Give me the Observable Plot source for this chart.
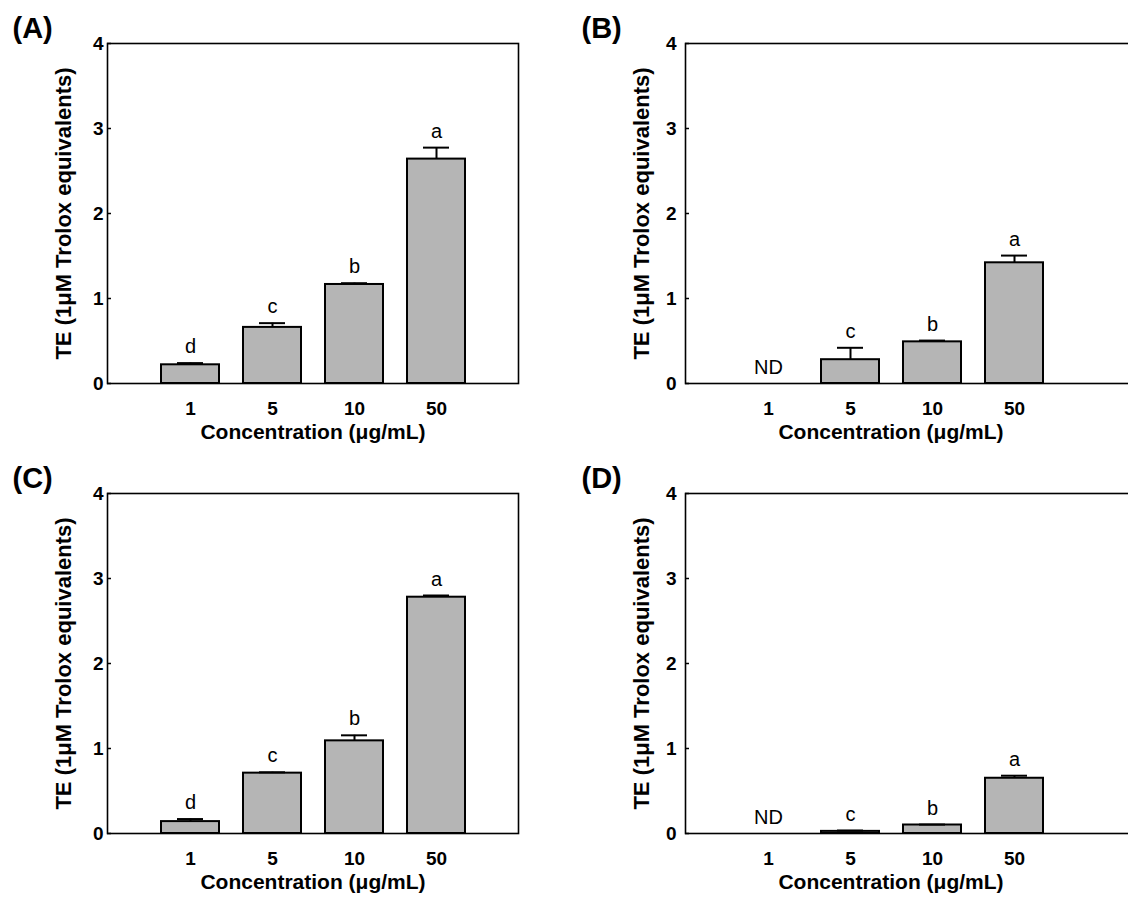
<!DOCTYPE html>
<html>
<head>
<meta charset="utf-8">
<script src="https://cdn.jsdelivr.net/npm/d3@7"></script>
<script src="https://cdn.jsdelivr.net/npm/@observablehq/plot@0.6"></script>
<style>
  html, body { margin: 0; padding: 0; background: #fff; }
  #wrap { position: relative; width: 1128px; height: 901px; overflow: hidden; background: #fff; }
  .panel { position: absolute; }
  .panel svg { overflow: visible; max-width: none !important; }
</style>
</head>
<body>
<div id="wrap"></div>
<script>
// ---- data ----
const concentrations = ["1", "5", "10", "50"];
const meanA = [0.22, 0.66, 1.165, 2.64];
const errA = [0.02, 0.05, 0.015, 0.135];
const lettersA = ["d", "c", "b", "a"];
const meanB = [null, 0.28, 0.49, 1.42];
const errB = [null, 0.14, 0.015, 0.085];
const lettersB = ["ND", "c", "b", "a"];
const meanC = [0.14, 0.71, 1.09, 2.78];
const errC = [0.03, 0.01, 0.065, 0.02];
const lettersC = ["d", "c", "b", "a"];
const meanD = [null, 0.025, 0.10, 0.65];
const errD = [null, 0.01, 0.005, 0.03];
const lettersD = ["ND", "c", "b", "a"];
const yTicks = [0, 1, 2, 3, 4];
const panelLabels = ["(A)", "(B)", "(C)", "(D)"];
const yLabel = "TE (1\u03bcM Trolox equivalents)";
const xLabel = "Concentration (\u03bcg/mL)";

const FONT = "'Liberation Sans', Arial, Helvetica, sans-serif";

function panel(cfg) {
  const {means, errs, letters, label, width, ml, mr, tickPad, labelX} = cfg;
  const bandW = 411;
  const frameW = width - ml - mr;
  const rows = concentrations.map((c, i) => ({
    c, mean: means[i], err: errs[i], letter: letters[i],
    top: means[i] == null ? 0 : means[i] + errs[i]
  }));
  const barRows = rows.filter(d => d.mean != null);
  const xLabelDx = (ml + bandW / 2) - (ml + frameW / 2);
  return Plot.plot({
    width, height: 450,
    marginLeft: ml, marginRight: mr, marginTop: 43, marginBottom: 67,
    x: {type: "band", domain: concentrations, range: [ml, ml + bandW], paddingInner: 0.293, paddingOuter: 0.634, label: null},
    y: {domain: [0, 4], label: null},
    style: {fontFamily: FONT, background: "transparent", color: "black", maxWidth: "none", overflow: "visible"},
    marks: [
      Plot.barY(barRows, {x: "c", y: "mean", fill: "#b5b5b5", stroke: "black", strokeWidth: 2}),
      Plot.ruleX(barRows, {x: "c", y1: "mean", y2: "top", stroke: "black", strokeWidth: 2}),
      Plot.tickY(barRows, {x: "c", y: "top", stroke: "black", strokeWidth: 2, insetLeft: 16, insetRight: 16}),
      Plot.frame({stroke: "black", strokeWidth: 1.6}),
      Plot.tickY(yTicks, {y: d => d, stroke: "black", strokeWidth: 1.5, insetRight: frameW - 4}),
      Plot.axisY(yTicks, {tickSize: 0, tickPadding: tickPad, fontSize: 19, fontWeight: "bold", label: null, tickFormat: d => String(d)}),
      Plot.axisX({tickSize: 0, tickPadding: 18, fontSize: 19, fontWeight: "bold", label: null}),
      Plot.text(rows, {x: "c", y: "top", text: "letter", dy: -10, lineAnchor: "bottom", fontSize: 20}),
      Plot.text([yLabel], {frameAnchor: "left", dx: -44, rotate: -90, textAnchor: "middle", lineAnchor: "middle", fontSize: 22, fontWeight: "bold"}),
      Plot.text([xLabel], {frameAnchor: "bottom", dx: xLabelDx, dy: 49, textAnchor: "middle", lineAnchor: "middle", fontSize: 21, fontWeight: "bold"}),
      Plot.text([label], {frameAnchor: "top-left", dx: labelX - ml, dy: -6, textAnchor: "start", lineAnchor: "bottom", fontSize: 29, fontWeight: "bold"})
    ]
  });
}

const wrap = document.getElementById("wrap");
const specs = [
  {means: meanA, errs: errA, letters: lettersA, label: panelLabels[0], left: 0, top: 0, width: 564, ml: 107, mr: 46, tickPad: 4, labelX: 12},
  {means: meanB, errs: errB, letters: lettersB, label: panelLabels[1], left: 564, top: 0, width: 580, ml: 121, mr: 0, tickPad: 9, labelX: 17},
  {means: meanC, errs: errC, letters: lettersC, label: panelLabels[2], left: 0, top: 450, width: 564, ml: 107, mr: 46, tickPad: 4, labelX: 12},
  {means: meanD, errs: errD, letters: lettersD, label: panelLabels[3], left: 564, top: 450, width: 580, ml: 121, mr: 0, tickPad: 9, labelX: 17}
];
for (const s of specs) {
  const div = document.createElement("div");
  div.className = "panel";
  div.style.left = s.left + "px";
  div.style.top = s.top + "px";
  div.style.width = s.width + "px";
  div.style.height = "450px";
  div.appendChild(panel(s));
  wrap.appendChild(div);
}
</script>
</body>
</html>
